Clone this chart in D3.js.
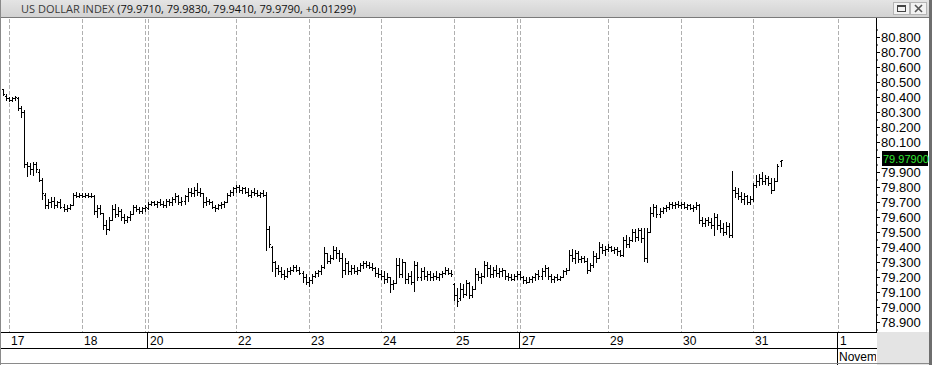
<!DOCTYPE html>
<html><head><meta charset="utf-8">
<script src="https://cdn.jsdelivr.net/npm/d3@7"></script>
<style>html,body{margin:0;padding:0;background:#fff;overflow:hidden}</style>
</head><body><svg id="c" width="932" height="365"></svg>
<script>
const titleName = "US DOLLAR INDEX";
const titleValues = "(79.9710, 79.9830, 79.9410, 79.9790, +0.01299)";

const opens = [
80.45,80.41,80.39,80.38,80.39,80.39,80.33,80.30,79.95,79.94,
79.92,79.95,79.90,79.85,79.75,79.68,79.70,79.71,79.68,79.70,
79.67,79.65,79.66,79.68,79.75,79.74,79.75,79.74,79.75,79.74,
79.74,79.64,79.66,79.63,79.55,79.52,79.58,79.65,79.62,79.64,
79.60,79.58,79.60,79.62,79.67,79.65,79.64,79.66,79.66,79.69,
79.70,79.69,79.70,79.69,79.68,79.71,79.70,79.72,79.74,79.70,
79.71,79.74,79.77,79.76,79.78,79.77,79.76,79.70,79.71,79.70,
79.67,79.66,79.68,79.69,79.70,79.75,79.77,79.79,79.80,79.78,
79.79,79.77,79.75,79.77,79.76,79.75,79.76,79.75,79.52,79.40,
79.30,79.26,79.24,79.22,79.21,79.24,79.25,79.27,79.25,79.23,
79.20,79.17,79.18,79.21,79.23,79.24,79.27,79.36,79.31,79.33,
79.38,79.36,79.33,79.25,79.29,79.24,79.26,79.24,79.25,79.28,
79.29,79.28,79.27,79.26,79.23,79.22,79.21,79.19,79.20,79.15,
79.16,79.28,79.22,79.30,79.19,79.21,79.17,79.28,79.20,79.24,
79.21,79.22,79.20,79.21,79.20,79.22,79.23,79.25,79.23,79.15,
79.08,79.06,79.12,79.09,79.16,79.08,79.12,79.22,79.20,79.21,
79.28,79.26,79.22,79.25,79.23,79.24,79.25,79.21,79.20,79.19,
79.21,79.22,79.20,79.18,79.17,79.19,79.20,79.22,79.21,79.24,
79.26,79.21,79.19,79.20,79.19,79.20,79.24,79.25,79.35,79.33,
79.36,79.32,79.33,79.31,79.25,79.28,79.34,79.33,79.40,79.38,
79.39,79.40,79.38,79.39,79.37,79.35,79.45,79.42,79.45,79.50,
79.47,79.51,79.46,79.33,79.50,79.63,79.67,79.62,79.64,79.66,
79.67,79.69,79.68,79.69,79.68,79.69,79.67,79.68,79.66,79.67,
79.68,79.58,79.56,79.58,79.57,79.55,79.60,79.55,79.53,79.50,
79.54,79.48,79.78,79.76,79.74,79.72,79.74,79.70,79.72,79.81,
79.84,79.86,79.84,79.86,79.83,79.78,79.84,79.971];

const highs = [
80.453,80.42,80.40,80.40,80.41,80.40,80.34,80.31,79.97,79.96,
79.97,79.97,79.92,79.86,79.76,79.72,79.73,79.73,79.71,79.72,
79.69,79.68,79.69,79.76,79.77,79.76,79.76,79.76,79.76,79.76,
79.75,79.68,79.68,79.63,79.58,79.60,79.68,79.69,79.67,79.65,
79.62,79.61,79.64,79.68,79.68,79.67,79.67,79.68,79.70,79.71,
79.71,79.71,79.72,79.71,79.72,79.72,79.73,79.76,79.75,79.73,
79.75,79.79,79.79,79.80,79.83,79.79,79.76,79.73,79.72,79.71,
79.68,79.69,79.70,79.71,79.76,79.78,79.80,79.81,79.81,79.80,
79.80,79.79,79.78,79.79,79.78,79.77,79.78,79.77,79.54,79.41,
79.31,79.28,79.27,79.25,79.26,79.27,79.28,79.28,79.27,79.24,
79.22,79.20,79.22,79.24,79.25,79.28,79.40,79.36,79.35,79.41,
79.40,79.38,79.36,79.33,79.31,79.28,79.28,79.27,79.29,79.31,
79.31,79.30,79.29,79.27,79.26,79.25,79.24,79.23,79.20,79.18,
79.33,79.33,79.32,79.30,79.23,79.24,79.31,79.30,79.26,79.27,
79.24,79.24,79.23,79.24,79.23,79.24,79.27,79.26,79.25,79.16,
79.13,79.16,79.15,79.18,79.17,79.14,79.26,79.24,79.23,79.31,
79.30,79.28,79.27,79.28,79.26,79.26,79.25,79.23,79.22,79.22,
79.24,79.24,79.21,79.20,79.20,79.21,79.23,79.25,79.26,79.28,
79.27,79.22,79.21,79.22,79.21,79.25,79.26,79.38,79.39,79.38,
79.37,79.34,79.34,79.33,79.29,79.37,79.36,79.43,79.42,79.41,
79.42,79.41,79.40,79.40,79.38,79.47,79.48,79.47,79.52,79.52,
79.53,79.53,79.53,79.53,79.67,79.69,79.68,79.66,79.67,79.68,
79.70,79.70,79.70,79.71,79.70,79.70,79.69,79.69,79.68,79.70,
79.69,79.60,79.59,79.60,79.59,79.63,79.62,79.58,79.56,79.57,
79.56,79.91,79.80,79.79,79.77,79.76,79.75,79.74,79.83,79.88,
79.89,79.90,79.88,79.87,79.86,79.86,79.95,79.983];

const lows = [
80.413,80.38,80.37,80.37,80.38,80.31,80.27,79.93,79.87,79.89,
79.88,79.90,79.84,79.72,79.66,79.66,79.67,79.66,79.67,79.66,
79.64,79.64,79.65,79.68,79.73,79.73,79.73,79.73,79.73,79.73,
79.62,79.60,79.62,79.52,79.49,79.51,79.58,79.60,79.61,79.58,
79.56,79.57,79.58,79.62,79.64,79.63,79.63,79.64,79.65,79.68,
79.68,79.67,79.68,79.67,79.67,79.68,79.68,79.70,79.69,79.68,
79.69,79.71,79.74,79.74,79.75,79.74,79.67,79.68,79.69,79.66,
79.64,79.65,79.66,79.67,79.70,79.74,79.75,79.77,79.77,79.76,
79.76,79.74,79.73,79.75,79.74,79.73,79.74,79.38,79.40,79.24,
79.21,79.22,79.20,79.19,79.20,79.22,79.24,79.24,79.22,79.17,
79.15,79.14,79.16,79.20,79.21,79.22,79.26,79.29,79.29,79.32,
79.33,79.31,79.20,79.22,79.22,79.22,79.23,79.22,79.24,79.26,
79.27,79.26,79.25,79.21,79.20,79.19,79.16,79.17,79.10,79.12,
79.16,79.20,79.20,79.16,79.16,79.15,79.11,79.18,79.18,79.19,
79.18,79.18,79.18,79.19,79.18,79.20,79.22,79.22,79.21,79.05,
79.01,79.05,79.07,79.08,79.06,79.07,79.12,79.18,79.16,79.20,
79.21,79.20,79.20,79.21,79.20,79.21,79.19,79.18,79.18,79.18,
79.19,79.19,79.16,79.16,79.17,79.17,79.18,79.19,79.19,79.21,
79.19,79.17,79.17,79.18,79.18,79.20,79.22,79.25,79.31,79.29,
79.30,79.30,79.30,79.23,79.24,79.27,79.30,79.33,79.36,79.35,
79.37,79.37,79.36,79.35,79.34,79.34,79.40,79.40,79.44,79.44,
79.45,79.43,79.31,79.30,79.50,79.61,79.60,79.60,79.63,79.64,
79.65,79.66,79.66,79.67,79.66,79.66,79.65,79.65,79.64,79.65,
79.56,79.54,79.54,79.55,79.53,79.48,79.52,79.50,79.48,79.49,
79.47,79.47,79.73,79.72,79.70,79.69,79.69,79.69,79.71,79.80,
79.81,79.82,79.82,79.81,79.76,79.78,79.84,79.941];

const closes = [
80.42,80.39,80.38,80.39,80.40,80.33,80.30,79.95,79.94,79.92,
79.95,79.92,79.85,79.76,79.68,79.70,79.71,79.68,79.70,79.67,
79.65,79.66,79.68,79.75,79.74,79.75,79.74,79.75,79.74,79.74,
79.64,79.66,79.63,79.55,79.52,79.58,79.65,79.62,79.64,79.60,
79.58,79.60,79.62,79.67,79.65,79.64,79.66,79.67,79.69,79.70,
79.69,79.70,79.69,79.68,79.71,79.70,79.72,79.74,79.70,79.71,
79.74,79.77,79.76,79.78,79.77,79.76,79.70,79.71,79.70,79.67,
79.66,79.68,79.69,79.70,79.75,79.77,79.79,79.80,79.78,79.79,
79.77,79.75,79.77,79.76,79.75,79.76,79.75,79.52,79.42,79.30,
79.26,79.24,79.22,79.21,79.24,79.25,79.27,79.25,79.23,79.20,
79.17,79.18,79.21,79.23,79.24,79.27,79.36,79.31,79.33,79.38,
79.36,79.33,79.25,79.29,79.24,79.26,79.24,79.25,79.28,79.29,
79.28,79.27,79.26,79.23,79.22,79.21,79.19,79.20,79.15,79.16,
79.28,79.22,79.30,79.19,79.21,79.17,79.28,79.20,79.24,79.21,
79.22,79.20,79.21,79.20,79.22,79.23,79.25,79.23,79.22,79.08,
79.04,79.12,79.09,79.16,79.08,79.12,79.22,79.20,79.21,79.28,
79.26,79.22,79.25,79.23,79.24,79.25,79.21,79.20,79.19,79.21,
79.22,79.20,79.18,79.17,79.19,79.20,79.22,79.21,79.24,79.26,
79.21,79.19,79.20,79.19,79.20,79.24,79.25,79.35,79.33,79.36,
79.32,79.33,79.31,79.25,79.28,79.34,79.33,79.40,79.38,79.39,
79.40,79.38,79.39,79.37,79.35,79.45,79.42,79.45,79.50,79.47,
79.51,79.46,79.33,79.50,79.63,79.67,79.62,79.64,79.66,79.67,
79.69,79.68,79.69,79.68,79.69,79.67,79.68,79.66,79.67,79.68,
79.58,79.56,79.58,79.57,79.55,79.60,79.55,79.53,79.50,79.54,
79.48,79.78,79.76,79.74,79.72,79.74,79.70,79.72,79.81,79.84,
79.86,79.84,79.86,79.83,79.78,79.84,79.94,79.979];

const dayLabels = ["17","18","20","22","23","24","25","27","29","30","31","1"];
const dayIndex  = [2,26,48,77,101,125,149,171,200,224,248,276];
const gridIndex = [2,26,47,48,77,101,125,149,170,171,200,224,248,276];
const weekSepIndex = [48,171];
const monthSepIndex = 276;
const monthLabel = "Novem";
const yTickValues = [78.9,79.0,79.1,79.2,79.3,79.4,79.5,79.6,79.7,79.8,79.9,80.0,80.1,80.2,80.3,80.4,80.5,80.6,80.7,80.8];
const yMinorValues = [78.85,78.95,79.05,79.15,79.25,79.35,79.45,79.55,79.65,79.75,79.85,79.95,80.05,80.15,80.25,80.35,80.45,80.55,80.65,80.75,80.85];
const lastPriceLabel = "79.97900";

const W = 932, H = 365;
const plotR = 876, plotT = 18, plotB = 332;
const svg = d3.select("#c");
const defs = svg.append("defs");
const tg = defs.append("linearGradient").attr("id","tg").attr("x1",0).attr("x2",0).attr("y1",0).attr("y2",1);
tg.append("stop").attr("offset","0%").attr("stop-color","#e4e4e4");
tg.append("stop").attr("offset","100%").attr("stop-color","#d2d2d2");

const x = d3.scaleLinear().domain([0, 276]).range([3, 838]);
const y = d3.scaleLinear().domain([78.9, 80.8]).range([322, 37]);

svg.append("rect").attr("width",W).attr("height",H).attr("fill","#fff");

// title bar
svg.append("rect").attr("x",0).attr("y",0).attr("width",W).attr("height",17).attr("fill","url(#tg)");
svg.append("line").attr("x1",0).attr("x2",W).attr("y1",17.5).attr("y2",17.5).attr("stroke","#7a7a7a");
const tt = svg.append("text").attr("x",21).attr("y",13)
  .attr("font-family","'Open Sans', 'Noto Sans', sans-serif").attr("font-size",11);
tt.append("tspan").attr("fill","#3a3a3a").text(titleName + " ");
tt.append("tspan").attr("fill","#111").text(titleValues);

// window buttons
const btn = svg.append("g");
[893.5, 910.5].forEach(bx => {
  btn.append("rect").attr("x",bx).attr("y",2.5).attr("width",16).attr("height",12)
    .attr("fill","#f2f2f2").attr("stroke","#b4b4b4");
});
btn.append("rect").attr("x",897.5).attr("y",5.5).attr("width",8).attr("height",6)
  .attr("fill","none").attr("stroke","#444");
btn.append("line").attr("x1",897.5).attr("x2",905.5).attr("y1",6.5).attr("y2",6.5).attr("stroke","#444");
btn.append("path").attr("d","M915,5 L922,12 M922,5 L915,12").attr("stroke","#555").attr("stroke-width",1.6);

// grid lines
svg.append("g").selectAll("line").data(gridIndex).join("line")
  .attr("x1", d => Math.round(x(d)) + 0.5).attr("x2", d => Math.round(x(d)) + 0.5)
  .attr("y1", plotT + 1).attr("y2", plotB)
  .attr("stroke","#b0b0b0").attr("stroke-dasharray","4,2");

// bars
const bars = d3.range(closes.length).map(i => ({i, o: opens[i], h: highs[i], l: lows[i], c: closes[i]}));
const bg = svg.append("g").attr("shape-rendering","crispEdges").attr("fill","#000");
bg.selectAll("rect.v").data(bars).join("rect").attr("class","v")
  .attr("x", d => Math.round(x(d.i))).attr("y", d => Math.round(y(d.h)))
  .attr("width",1).attr("height", d => Math.max(1, Math.round(y(d.l)) - Math.round(y(d.h)) + 1));
bg.selectAll("rect.o").data(bars).join("rect").attr("class","o")
  .attr("x", d => Math.round(x(d.i)) - 1).attr("y", d => Math.round(y(d.o)))
  .attr("width",1).attr("height",1);
bg.selectAll("rect.c").data(bars).join("rect").attr("class","c")
  .attr("x", d => Math.round(x(d.i)) + 1).attr("y", d => Math.round(y(d.c)))
  .attr("width",1).attr("height",1);

// right axis
svg.append("line").attr("x1",plotR+0.5).attr("x2",plotR+0.5).attr("y1",plotT).attr("y2",plotB)
  .attr("stroke","#000");
const lastClose = closes[closes.length-1];
const ly = Math.round(y(lastClose));
const ax = svg.append("g").attr("transform",`translate(${plotR},0)`)
  .call(d3.axisRight(y).tickValues(yTickValues).tickFormat(d3.format(".3f")).tickSize(4).tickPadding(1));
ax.select(".domain").remove();
ax.selectAll("text").attr("font-family","'Liberation Sans', Arial, sans-serif").attr("font-size",13).attr("fill","#000");
// the tick label hidden under the last-price box is not drawn (as in the reference)
ax.selectAll(".tick").filter(d => Math.abs(y(d) - ly) < 7.5).select("text").remove();
const axm = svg.append("g").attr("transform",`translate(${plotR},0)`)
  .call(d3.axisRight(y).tickValues(yMinorValues).tickFormat("").tickSize(2));
axm.select(".domain").remove();

// last price label
svg.append("rect").attr("x",882).attr("y",ly-9).attr("width",46).attr("height",15).attr("fill","#000");
svg.append("text").attr("x",883).attr("y",ly+3).attr("font-family","'Liberation Sans', Arial, sans-serif")
  .attr("font-size",11).attr("fill","#33e633").text(lastPriceLabel);

// bottom date area
svg.append("rect").attr("x",plotR+1).attr("y",plotB).attr("width",W-plotR-1).attr("height",H-plotB).attr("fill","#e4e4e4");
svg.append("line").attr("x1",0).attr("x2",plotR+1).attr("y1",plotB+0.5).attr("y2",plotB+0.5).attr("stroke","#000");
svg.append("line").attr("x1",0).attr("x2",plotR+1).attr("y1",348.5).attr("y2",348.5).attr("stroke","#000");
svg.append("g").selectAll("line").data(weekSepIndex).join("line")
  .attr("x1", d => Math.round(x(d)) - 0.5).attr("x2", d => Math.round(x(d)) - 0.5)
  .attr("y1", plotB).attr("y2", 348).attr("stroke","#000");
svg.append("line").attr("x1", Math.round(x(monthSepIndex)) - 0.5).attr("x2", Math.round(x(monthSepIndex)) - 0.5)
  .attr("y1", plotB).attr("y2", H).attr("stroke","#000");
svg.append("g").selectAll("text").data(dayIndex).join("text")
  .attr("x", d => Math.round(x(d)) + 2).attr("y", 345)
  .attr("font-family","'Liberation Sans', Arial, sans-serif").attr("font-size",12).attr("fill","#000")
  .text((d,i) => dayLabels[i]);
svg.append("defs").append("clipPath").attr("id","mc").append("rect").attr("x",0).attr("y",349).attr("width",plotR).attr("height",16);
svg.append("text").attr("x", Math.round(x(monthSepIndex)) + 1).attr("y", 361).attr("clip-path","url(#mc)")
  .attr("font-family","'Liberation Sans', Arial, sans-serif").attr("font-size",12).attr("fill","#000").text(monthLabel);

// frame
svg.append("line").attr("x1",0.5).attr("x2",0.5).attr("y1",0).attr("y2",H).attr("stroke","#8a8a8a");
svg.append("line").attr("x1",0).attr("x2",W).attr("y1",H-1.5).attr("y2",H-1.5).attr("stroke","#8a8a8a");
svg.append("rect").attr("x",929).attr("y",0).attr("width",3).attr("height",H).attr("fill","#6e6e6e");
</script></body></html>
